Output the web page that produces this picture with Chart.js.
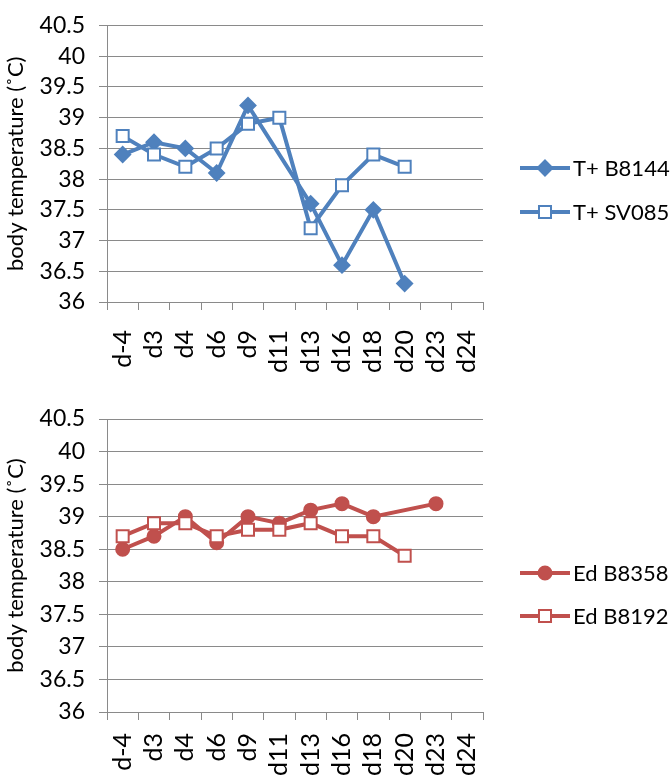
<!DOCTYPE html>
<html>
<head>
<meta charset="utf-8">
<script src="https://cdn.jsdelivr.net/npm/chart.js@4.4.1/dist/chart.umd.min.js"></script>
<style>
  html, body { margin: 0; padding: 0; background: #fff; }
  #wrap { position: relative; width: 672px; height: 777px; }
  .box { position: absolute; left: 0; width: 672px; }
</style>
</head>
<body>
<div id="wrap">
  <div class="box" style="top:0;height:390px"><canvas id="topChart"></canvas></div>
  <div class="box" style="top:390px;height:387px"><canvas id="bottomChart"></canvas></div>
</div>
<script>
// categories (days) and series values
const days = ['d-4', 'd3', 'd4', 'd6', 'd9', 'd11', 'd13', 'd16', 'd18', 'd20', 'd23', 'd24'];
const tB8144 = [38.4, 38.6, 38.5, 38.1, 39.2, null, 37.6, 36.6, 37.5, 36.3, null, null];
const tSV085 = [38.7, 38.4, 38.2, 38.5, 38.9, 39.0, 37.2, 37.9, 38.4, 38.2, null, null];
const edB8358 = [38.5, 38.7, 39.0, 38.6, 39.0, 38.9, 39.1, 39.2, 39.0, null, 39.2, null];
const edB8192 = [38.7, 38.9, 38.9, 38.7, 38.8, 38.8, 38.9, 38.7, 38.7, 38.4, null, null];
const yMin = 36, yMax = 40.5, yStep = 0.5;
const yTitle = 'body temperature (˚C)';

const BLUE = '#4f81bd';
const RED = '#c0504d';
const GRID = '#8a8a8a';
const FONT = 'Lato, "Open Sans", sans-serif';

function drawMarker(ctx, style, x, y, r, color, filled) {
  ctx.beginPath();
  if (style === 'rectRot') {
    ctx.moveTo(x, y - r); ctx.lineTo(x + r, y); ctx.lineTo(x, y + r); ctx.lineTo(x - r, y);
    ctx.closePath();
  } else if (style === 'rect') {
    const s = r * Math.SQRT1_2;
    ctx.rect(x - s, y - s, 2 * s, 2 * s);
  } else {
    ctx.arc(x, y, r, 0, Math.PI * 2);
  }
  ctx.fillStyle = filled ? color : '#fff';
  ctx.fill();
  ctx.lineWidth = 2;
  ctx.strokeStyle = color;
  ctx.stroke();
}

// legend on the right: line with the marker in the middle, then the name
const sideLegend = {
  id: 'sideLegend',
  afterDraw(chart, args, opts) {
    const ctx = chart.ctx;
    ctx.save();
    chart.data.datasets.forEach((ds, i) => {
      const y = opts.top + i * opts.gap;
      ctx.strokeStyle = ds.borderColor;
      ctx.lineWidth = ds.borderWidth;
      ctx.beginPath();
      ctx.moveTo(opts.x, y);
      ctx.lineTo(opts.x + 50, y);
      ctx.stroke();
      drawMarker(ctx, ds.pointStyle, opts.x + 25, y, ds.pointRadius, ds.borderColor,
                 ds.pointBackgroundColor !== '#fff');
      ctx.fillStyle = '#000';
      ctx.font = '22px ' + FONT;
      ctx.textBaseline = 'middle';
      ctx.textAlign = 'left';
      ctx.fillText(ds.label, opts.x + 53, y + 1);
    });
    ctx.restore();
  }
};

function series(label, data, color, style, radius, filled, order) {
  return {
    label: label,
    data: data,
    borderColor: color,
    borderWidth: 4,
    pointStyle: style,
    pointRadius: radius,
    pointHoverRadius: radius,
    pointBorderWidth: 2,
    pointBorderColor: color,
    pointBackgroundColor: filled ? color : '#fff',
    tension: 0,
    spanGaps: true,
    fill: false,
    order: order
  };
}

function makeChart(id, datasets, cfg) {
  const ctx = document.getElementById(id).getContext('2d');
  return new Chart(ctx, {
    type: 'line',
    data: { labels: days, datasets: datasets },
    plugins: [sideLegend],
    options: {
      responsive: true,
      maintainAspectRatio: false,
      animation: false,
      layout: { padding: { top: cfg.top, right: 189, bottom: 0, left: 0 } },
      plugins: {
        legend: { display: false },
        tooltip: { enabled: false },
        sideLegend: { x: 520, top: cfg.legendTop, gap: cfg.legendGap }
      },
      scales: {
        x: {
          offset: true,
          afterFit: (scale) => { scale.height = cfg.xHeight; },
          grid: { offset: true, drawOnChartArea: false, tickLength: 8, color: GRID },
          border: { color: GRID, width: 1 },
          ticks: {
            minRotation: 90, maxRotation: 90, autoSkip: false,
            padding: cfg.xPad, color: '#000',
            font: { family: FONT, size: 25, lineHeight: 1 }
          }
        },
        y: {
          min: yMin, max: yMax,
          afterFit: (scale) => { scale.width = 107; },
          grid: { color: GRID, tickLength: 8 },
          border: { color: GRID, width: 1 },
          ticks: {
            stepSize: yStep, padding: 14, color: '#000', autoSkip: false,
            font: { family: FONT, size: 23, lineHeight: 1 },
            callback: (v) => String(v)
          },
          title: {
            display: true, text: yTitle, color: '#000',
            font: { family: FONT, size: 22 },
            padding: { top: 3, bottom: 0 }
          }
        }
      }
    }
  });
}

makeChart('topChart', [
  series('T+ B8144', tB8144, BLUE, 'rectRot', 7.5, true, 1),
  series('T+ SV085', tSV085, BLUE, 'rect', 8.5, false, 0)
], { top: 12, xHeight: 88, xPad: 20, legendTop: 168, legendGap: 44 });

makeChart('bottomChart', [
  series('Ed B8358', edB8358, RED, 'circle', 6.5, true, 1),
  series('Ed B8192', edB8192, RED, 'rect', 8.5, false, 0)
], { top: 29, xHeight: 65, xPad: 13, legendTop: 183, legendGap: 43 });
</script>
</body>
</html>
